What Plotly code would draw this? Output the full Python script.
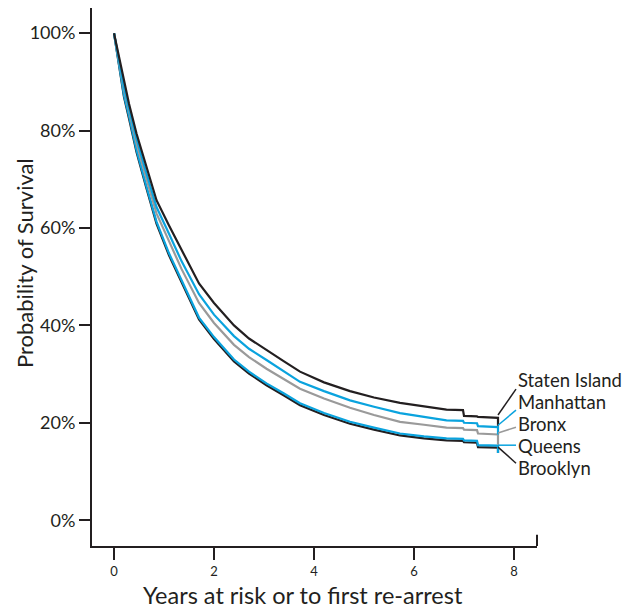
import plotly.graph_objects as go

# Data
years = [0, 0.1, 0.2, 0.3, 0.45, 0.65, 0.85, 1.1, 1.35, 1.7, 2.0, 2.4, 2.7, 3.05, 3.4,
         3.72, 4.2, 4.72, 5.2, 5.72, 6.2, 6.65, 6.98, 7.0, 7.26, 7.28, 7.68, 7.68]
staten_island = [100, 95, 89.8, 85.5, 79.4, 72.5, 65.7, 60.5, 55.4, 48.6, 44.6, 40.0, 37.3, 34.9, 32.6,
                 30.5, 28.3, 26.5, 25.2, 24.1, 23.3, 22.7, 22.6, 21.4, 21.3, 21.2, 21.0, 19.4]
manhattan = [100, 94.6, 89.0, 84.6, 78.4, 71.2, 64.3, 58.8, 53.2, 46.4, 42.2, 37.8, 35.2, 32.9, 30.6,
             28.4, 26.5, 24.6, 23.3, 22.0, 21.2, 20.5, 20.4, 20.0, 19.9, 19.3, 19.1, 17.6]
bronx = [100, 94.3, 88.4, 84.0, 77.4, 70.0, 63.0, 57.3, 51.6, 44.6, 40.5, 36.0, 33.5, 31.1, 29.0,
         27.0, 25.0, 23.1, 21.6, 20.2, 19.6, 19.0, 18.9, 18.6, 18.5, 17.8, 17.6, 15.5]
queens = [100, 93.6, 87.2, 83.0, 76.0, 68.5, 61.3, 54.8, 49.2, 41.6, 37.6, 33.0, 30.5, 28.1, 26.0,
          24.0, 22.0, 20.2, 19.0, 17.8, 17.2, 16.8, 16.7, 16.4, 16.3, 15.4, 15.3, 13.8]
brooklyn = [100, 93.4, 86.9, 82.5, 75.6, 68.1, 60.9, 54.4, 48.8, 41.2, 37.2, 32.6, 30.1, 27.7, 25.6,
            23.6, 21.6, 19.8, 18.6, 17.4, 16.8, 16.4, 16.3, 16.0, 15.9, 15.0, 14.9, 13.8]

y_ticks = [0, 20, 40, 60, 80, 100]
y_tick_labels = ["0%", "20%", "40%", "60%", "80%", "100%"]
x_ticks = [0, 2, 4, 6, 8]
x_tick_labels = ["0", "2", "4", "6", "8"]

names = ["Staten Island", "Manhattan", "Bronx", "Queens", "Brooklyn"]
# label connector geometry (layout only)
label_y = [28.8, 24.3, 19.75, 15.2, 10.7]
conn_start_y = [21.6, 19.5, 17.9, 15.4, 15.0]
conn_end_y = [26.9, 22.6, 19.1, 15.4, 11.7]

BLACK = "#231F20"
BLUE = "#0AA3DE"
GRAY = "#9A9A9A"
colors = {"Staten Island": BLACK, "Manhattan": BLUE, "Bronx": GRAY, "Queens": BLUE, "Brooklyn": BLACK}
series = {"Staten Island": staten_island, "Manhattan": manhattan, "Bronx": bronx,
          "Queens": queens, "Brooklyn": brooklyn}

FONT = "Lato"
fig = go.Figure()
for name in ["Brooklyn", "Queens", "Bronx", "Manhattan", "Staten Island"]:
    fig.add_trace(go.Scatter(x=years, y=series[name], mode="lines", name=name,
                             line=dict(color=colors[name], width=2.2), showlegend=False))

x_end = years[-1]
for i, name in enumerate(names):
    fig.add_shape(type="line", x0=x_end, x1=8.04, y0=conn_start_y[i], y1=conn_end_y[i],
                  line=dict(color=colors[name], width=1.5), xref="x", yref="y")
    fig.add_annotation(x=8.05, y=label_y[i], text=name, showarrow=False, xanchor="left",
                       yanchor="middle", borderpad=0,
                       font=dict(family=FONT, size=18.5, color=BLACK),
                       xref="x", yref="y")

# right-end bracket of x axis
fig.add_shape(type="line", xref="paper", yref="paper", x0=1, x1=1, y0=0, y1=0.021,
              line=dict(color=BLACK, width=2))

fig.add_annotation(xref="paper", yref="paper", x=(303 - 92) / 445, y=-49 / 538,
                   text="Years at risk or to first re-arrest", showarrow=False, borderpad=0,
                   xanchor="center", yanchor="middle", font=dict(family=FONT, size=23.5, color=BLACK))
fig.add_annotation(xref="paper", yref="paper", x=-68 / 445, y=(546 - 263) / 538,
                   text="Probability of Survival", showarrow=False, textangle=-90,
                   xanchor="center", yanchor="middle", font=dict(family=FONT, size=22, color=BLACK))

fig.update_layout(
    width=632, height=603,
    margin=dict(l=84, r=103, t=0, b=65),
    paper_bgcolor="white", plot_bgcolor="white",
    font=dict(family=FONT, color=BLACK),
    xaxis=dict(range=[-0.44, 8.46], tickvals=x_ticks, ticktext=x_tick_labels,
               showline=True, linecolor=BLACK, linewidth=2, ticks="outside", ticklen=12,
               tickwidth=2, tickcolor=BLACK, showgrid=False, zeroline=False,
               tickfont=dict(family=FONT, size=13, color=BLACK)),
    yaxis=dict(range=[-5.3, 105.17], tickvals=y_ticks, ticktext=y_tick_labels,
               showline=True, linecolor=BLACK, linewidth=2, ticks="outside", ticklen=11,
               tickwidth=2, tickcolor=BLACK, showgrid=False, zeroline=False,
               tickfont=dict(family=FONT, size=18, color=BLACK)),
)

fig.write_html("out.html")
